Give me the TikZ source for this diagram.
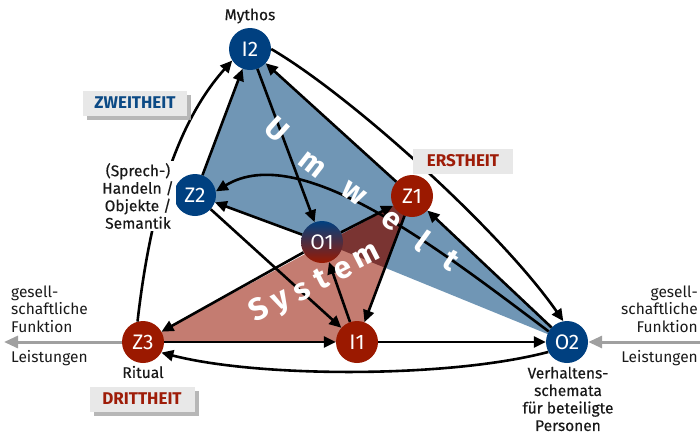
\documentclass[tikz,border=0pt]{standalone}
\usepackage{fontspec}
\setmainfont{Fira Sans}
\newfontfamily\medfont[FakeBold=0.4]{Fira Sans}
\usetikzlibrary{arrows.meta,shadows}
\definecolor{nblue}{RGB}{0,64,128}
\definecolor{nred}{RGB}{155,25,0}
\definecolor{ablue}{RGB}{112,150,181}
\definecolor{ared}{RGB}{196,124,113}
\definecolor{aover}{RGB}{122,52,50}
\definecolor{tblue}{RGB}{12,74,133}
\definecolor{tred}{RGB}{158,28,8}
\definecolor{boxgray}{RGB}{232,232,232}
\definecolor{shgray}{RGB}{175,175,175}
\definecolor{lgray}{RGB}{160,160,160}
\definecolor{txt}{RGB}{25,25,25}
\begin{document}
\begin{tikzpicture}[x=1pt,y=-1pt,
  nd/.style={circle, minimum size=42pt, inner sep=0pt, text=white, font=\fontsize{21}{21}\selectfont},
  bn/.style={nd, fill=nblue},
  rn/.style={nd, fill=nred},
  conn/.style={line width=2.6pt, draw=black, -{Triangle[length=12pt,width=11pt]}},
  garrow/.style={line width=3pt, draw=lgray, -{Triangle[length=14pt,width=12pt]}},
  lbl/.style={font=\fontsize{15.5}{17.5}\medfont, align=center, text=txt, inner sep=0pt},
  side/.style={font=\fontsize{15.5}{17.5}\selectfont, text=txt, inner sep=0pt},
  tag/.style={fill=boxgray, font=\fontsize{17}{17}\bfseries\selectfont, minimum height=25pt, inner xsep=3pt},
  shad/.style={drop shadow={shadow xshift=4pt, shadow yshift=-4pt, fill=shgray, opacity=0.9}},
  letter/.style={text=white, font=\fontsize{31}{31}\bfseries\selectfont, inner sep=0pt, text height=0.7em, text depth=0.2em}
]
\useasboundingbox (0,0) rectangle (700,437);

% positions
\coordinate (pI2) at (250,49);
\coordinate (pZ2) at (195,195);
\coordinate (pO1) at (322,242);
\coordinate (pZ1) at (412,196);
\coordinate (pZ3) at (143,342);
\coordinate (pI1) at (357,342);
\coordinate (pO2) at (567,342);

% areas
\fill[ablue] (pI2) -- (pZ1) -- (pO2) -- (pO1) -- (pZ2) -- cycle;
\fill[ared] (pZ3) -- (pZ1) -- (pI1) -- cycle;
\begin{scope}
  \clip (pI2) -- (pZ1) -- (pO2) -- (pO1) -- (pZ2) -- cycle;
  \fill[aover] (pZ3) -- (pZ1) -- (pI1) -- cycle;
\end{scope}

% nodes
\node[bn] (I2) at (pI2) {I2};
\node[bn] (Z2) at (pZ2) {Z2};
\node[nd, shading=axis, top color=nblue, bottom color=nred, middle color=nblue!50!nred] (O1) at (pO1) {O1};
\node[rn] (Z1) at (pZ1) {Z1};
\node[rn] (Z3) at (pZ3) {Z3};
\node[rn] (I1) at (pI1) {I1};
\node[bn] (O2) at (pO2) {O2};

% connectors
\draw[conn] (Z3.105) .. controls (148,230) and (170,130) .. (I2.213);
\draw[conn] (Z2) -- (I2);
\draw[conn] (Z1) -- (I2);
\draw[conn] (I2) -- (O1);
\draw[conn] (I2.0) .. controls (350,95) and (500,230) .. (O2.100);
\draw[conn] (O2) -- (Z1);
\draw[conn] (O2.150) .. controls (440,250) and (300,140) .. (Z2.10);
\draw[conn] (O1) -- (Z2);
\draw[conn] (Z2) -- (I1);
\draw[conn] (O1) -- (Z1);
\draw[conn] (Z1) -- (I1);
\draw[conn] (I1) -- (O1);
\draw[conn] (O1) -- (Z3);
\draw[conn] (Z3) -- (I1);
\draw[conn] (I1) -- (O2);
\draw[conn] (O2.208) .. controls (450,378) and (260,378) .. (Z3.-30);

\coordinate (gl) at (4,342);
\coordinate (gr) at (700,342);
\draw[garrow] (Z3) -- (gl);
\draw[garrow] (gr) -- (O2);

% area texts
\node[letter, rotate=-42] (u0) at (272,135) {U};
\node[letter, rotate=-38] (u1) at (308,170) {m};
\node[letter, rotate=-35] (u2) at (350,198) {w};
\node[letter, rotate=-36] (u3) at (388,225) {e};
\node[letter, rotate=-36] (u4) at (418,248) {l};
\node[letter, rotate=-34] (u5) at (447,267) {t};

\node[letter, rotate=27] (s0) at (262,316) {S};
\node[letter, rotate=27] (s1) at (284,306) {y};
\node[letter, rotate=27] (s2) at (305,297) {s};
\node[letter, rotate=27] (s3) at (325,286) {t};
\node[letter, rotate=27] (s4) at (346,275) {e};
\node[letter, rotate=27] (s5) at (369,261) {m};

% labels
\node[lbl] (mythos) at (250,16) {Mythos};
\node[lbl, fill=white, inner sep=2pt] (sprech) at (138,196) {(Sprech-)\\Handeln /\\Objekte /\\Semantik};
\node[lbl] (ritual) at (143,372) {Ritual};
\node[lbl] (verh) at (568,399) {Verhaltens-\\schemata\\für beteiligte\\Personen};
\node[side, align=left, anchor=west] (gesl) at (11,309) {gesell-\\schaftliche\\Funktion};
\node[side, anchor=west] (leil) at (11,358) {Leistungen};
\node[side, align=right, anchor=east] (gesr) at (698,309) {gesell-\\schaftliche\\Funktion};
\node[side, anchor=east] (leir) at (698,358) {Leistungen};

% tags
\node[tag, shad, text=tblue, minimum width=104pt] (zw) at (135,103) {ZWEITHEIT};
\node[tag, text=tred, minimum width=100pt] (er) at (463,161) {ERSTHEIT};
\node[tag, shad, text=tred, minimum width=105pt] (dr) at (142,399) {DRITTHEIT};
\end{tikzpicture}
\end{document}
